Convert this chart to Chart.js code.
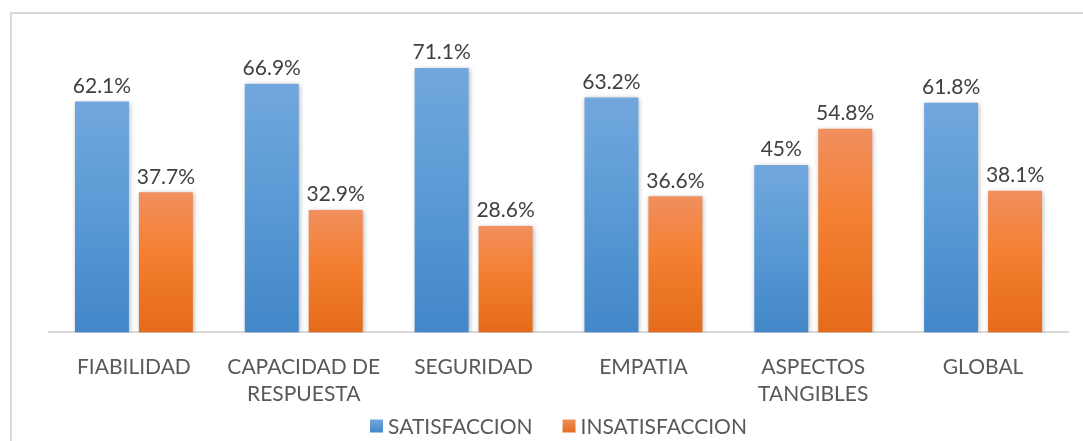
<!DOCTYPE html>
<html>
<head>
<meta charset="utf-8">
<script src="https://cdn.jsdelivr.net/npm/chart.js@4"></script>
<style>
  html, body { margin: 0; padding: 0; background: #fff; }
  #wrap { position: relative; width: 1083px; height: 441px; overflow: hidden; }
  #frame { position: absolute; left: 10px; top: 12px; width: 1200px; height: 600px;
           border-left: 2px solid #d9d9d9; border-top: 2px solid #d9d9d9; }
  canvas { position: absolute; left: 0; top: 0; }
</style>
</head>
<body>
<div id="wrap">
  <div id="frame"></div>
  <canvas id="chart" width="1083" height="441"></canvas>
</div>
<script>
// Chart data
const categories = ['FIABILIDAD', ['CAPACIDAD DE', 'RESPUESTA'], 'SEGURIDAD', 'EMPATIA', ['ASPECTOS', 'TANGIBLES'], 'GLOBAL'];
const satisfaccion = [62.1, 66.9, 71.1, 63.2, 45, 61.8];
const insatisfaccion = [37.7, 32.9, 28.6, 36.6, 54.8, 38.1];
const seriesNames = ['SATISFACCION', 'INSATISFACCION'];

const FONT = 'Lato, Carlito, Calibri, "Open Sans", sans-serif';
const BLUE = ['#72a7de', '#5b9bd5', '#4287c9'];
const ORANGE = ['#f18f5e', '#f47f30', '#e46b1a'];

// gradient per bar, lighter at the top
function barGradient(cols) {
    return function(context) {
        const chart = context.chart;
        if (context.type !== 'data' || !chart.chartArea) return cols[1];
        const yScale = chart.scales.y;
        const yTop = yScale.getPixelForValue(context.raw);
        const yBase = yScale.getPixelForValue(0);
        const g = chart.ctx.createLinearGradient(0, yTop, 0, yBase);
        g.addColorStop(0, cols[0]);
        g.addColorStop(0.45, cols[1]);
        g.addColorStop(1, cols[2]);
        return g;
    };
}

const shadowPlugin = {
    id: 'barShadow',
    beforeDatasetsDraw(chart) {
        const ctx = chart.ctx;
        ctx.save();
        ctx.shadowColor = 'rgba(0,0,0,0.35)';
        ctx.shadowBlur = 5;
        ctx.shadowOffsetX = 1;
        ctx.shadowOffsetY = 1;
    },
    afterDatasetsDraw(chart) {
        chart.ctx.restore();
    }
};

const valueLabels = {
    id: 'valueLabels',
    afterDraw(chart) {
        const ctx = chart.ctx;
        ctx.save();
        ctx.font = '21px ' + FONT;
        ctx.fillStyle = '#404040';
        ctx.textAlign = 'center';
        ctx.textBaseline = 'bottom';
        chart.data.datasets.forEach((ds, i) => {
            chart.getDatasetMeta(i).data.forEach((bar, j) => {
                ctx.fillText(ds.data[j] + '%', bar.x, bar.y - 5);
            });
        });
        ctx.restore();
    }
};

// legend drawn by hand so the spacing matches the original
const bottomLegend = {
    id: 'bottomLegend',
    afterDraw(chart) {
        const ctx = chart.ctx;
        const area = chart.chartArea;
        const colors = [BLUE, ORANGE];
        const box = 13, gap = 5, spacing = 30;
        const y = 426;
        ctx.save();
        ctx.font = '21px ' + FONT;
        const widths = seriesNames.map(n => ctx.measureText(n).width);
        let total = 0;
        widths.forEach((w, i) => { total += box + gap + w + (i > 0 ? spacing : 0); });
        let x = (area.left + area.right) / 2 - total / 2;
        seriesNames.forEach((name, i) => {
            const g = ctx.createLinearGradient(0, y - box / 2, 0, y + box / 2);
            g.addColorStop(0, colors[i][0]);
            g.addColorStop(1, colors[i][2]);
            ctx.fillStyle = g;
            ctx.fillRect(x, y - box / 2, box, box);
            ctx.fillStyle = '#595959';
            ctx.textAlign = 'left';
            ctx.textBaseline = 'middle';
            ctx.fillText(name, x + box + gap, y + 1);
            x += box + gap + widths[i] + spacing;
        });
        ctx.restore();
    }
};

new Chart(document.getElementById('chart'), {
    type: 'bar',
    data: {
        labels: categories,
        datasets: [
            {
                label: seriesNames[0],
                data: satisfaccion,
                backgroundColor: barGradient(BLUE),
                categoryPercentage: 0.753,
                barPercentage: 0.844
            },
            {
                label: seriesNames[1],
                data: insatisfaccion,
                backgroundColor: barGradient(ORANGE),
                categoryPercentage: 0.753,
                barPercentage: 0.844
            }
        ]
    },
    options: {
        responsive: false,
        animation: false,
        layout: {
            padding: { left: 49, right: 15, top: 35, bottom: 20 }
        },
        plugins: {
            tooltip: { enabled: false },
            legend: { display: false }
        },
        scales: {
            x: {
                grid: { display: false },
                border: { color: '#d9d9d9', width: 2 },
                ticks: {
                    color: '#595959',
                    padding: 13,
                    maxRotation: 0,
                    autoSkip: false,
                    font: { family: FONT, size: 21, lineHeight: 1.3 }
                }
            },
            y: {
                display: false,
                min: 0,
                max: 80
            }
        }
    },
    plugins: [shadowPlugin, valueLabels, bottomLegend]
});
</script>
</body>
</html>
